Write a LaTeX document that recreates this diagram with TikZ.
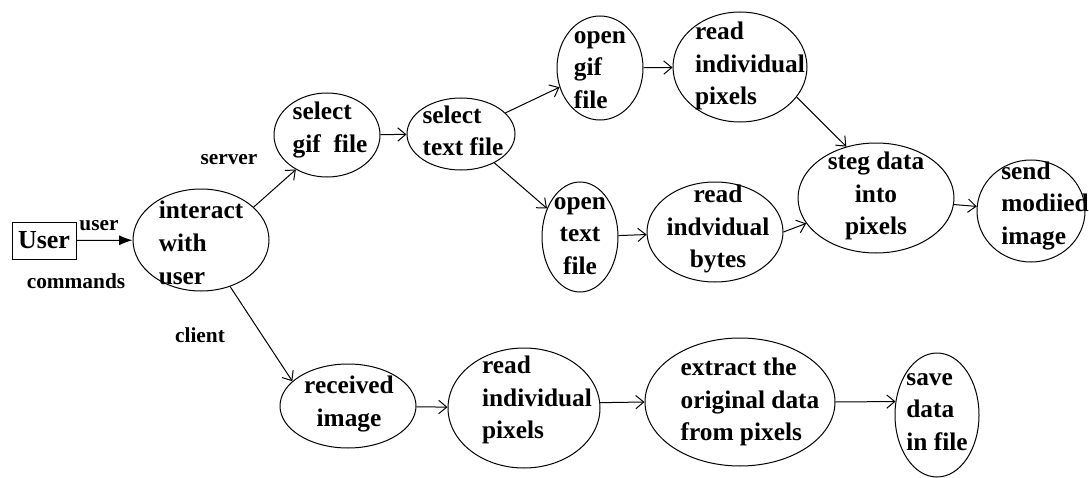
\documentclass[tikz,border=0pt]{standalone}
\usepackage{fontspec}
\setmainfont{Liberation Serif}
\usetikzlibrary{shapes.geometric,arrows.meta}
\tikzset{
 bub/.style={draw, ellipse, inner sep=0pt, line width=0.75pt},
 btxt/.style={font=\fontsize{19}{24.5}\selectfont\bfseries, align=left, inner sep=0pt},
 lbl/.style={font=\fontsize{16}{19}\selectfont\bfseries, inner sep=0pt},
 flow/.style={draw, line width=0.75pt, -{Straight Barb[length=6pt,width=10pt]}},
 userbox/.style={draw, rectangle, line width=0.75pt, minimum width=48pt, minimum height=27.75pt, inner sep=0pt, font=\fontsize{19.5}{22}\selectfont\bfseries},
 solidflow/.style={draw, line width=0.75pt, -{Latex[length=10pt,width=7.5pt]}}
}
\newcommand\bub[9]{%
 \node[bub, minimum width={#4*1.5pt}, minimum height={#5*1.5pt}] (#1) at (#2,#3) {};
 \node[btxt,#8] (#1-t) at (#6,#7) {#9};}
\begin{document}
\begin{tikzpicture}[x=0.75pt,y=-0.75pt]
\useasboundingbox (0,0) rectangle (1089,478);
\node[userbox] (user) at (44,240.5) {User};
\bub{interact}{201}{240}{68}{51}{201}{243}{}{interact\\with\\user}
\bub{sgif}{327}{135}{53}{42}{330}{130}{}{select\\gif\ \ file}
\bub{stext}{461}{134}{54}{36}{463}{131}{}{select\\text file}
\bub{ogif}{600}{68}{43}{52}{600}{70}{}{open\\gif\\file}
\bub{rpix}{740}{67}{67}{55}{750}{66}{}{read\\individual\\pixels}
\bub{otext}{580}{237}{38}{55}{580}{236}{align=center}{open\\text\\file}
\bub{rbytes}{715}{232}{68}{50}{718}{229}{align=center}{read\\indvidual\\bytes}
\bub{steg}{876}{198}{78}{55}{876}{196}{align=center}{steg data\\into\\pixels}
\bub{send}{1031}{211}{54}{51}{1045}{206}{}{send\\modiied\\image}
\bub{recv}{348}{406}{68}{42}{349}{404}{align=center}{received\\image}
\bub{rpixb}{524}{408}{76}{60}{537}{400}{}{read\\individual\\pixels}
\bub{extr}{740}{402}{95}{64}{750}{402}{}{extract the\\original data\\from pixels}
\bub{save}{937}{415}{42}{62}{937}{412}{}{save\\data\\in file}
\node[lbl] (luser) at (99,226) {user};
\node[lbl] (lcmd) at (76,281) {commands};
\node[lbl] (lsrv) at (229,160) {server};
\node[lbl] (lcli) at (200,335) {client};
\draw[solidflow] (user) -- (interact);
\draw[flow] (interact.32) -- (sgif.228);
\draw[flow] (interact.-58) -- (recv.156);
\draw[flow] (sgif) -- (stext);
\draw[flow] (stext) -- (ogif);
\draw[flow] (stext) -- (otext);
\draw[flow] (ogif) -- (rpix);
\draw[flow] (rpix.-28) -- (steg.120);
\draw[flow] (otext) -- (rbytes);
\draw[flow] (rbytes.east) -- (steg.200);
\draw[flow] (steg) -- (send);
\draw[flow] (recv) -- (rpixb);
\draw[flow] (rpixb.4) -- (extr.west);
\draw[flow] (extr.east) -- (save.162);
\end{tikzpicture}
\end{document}
